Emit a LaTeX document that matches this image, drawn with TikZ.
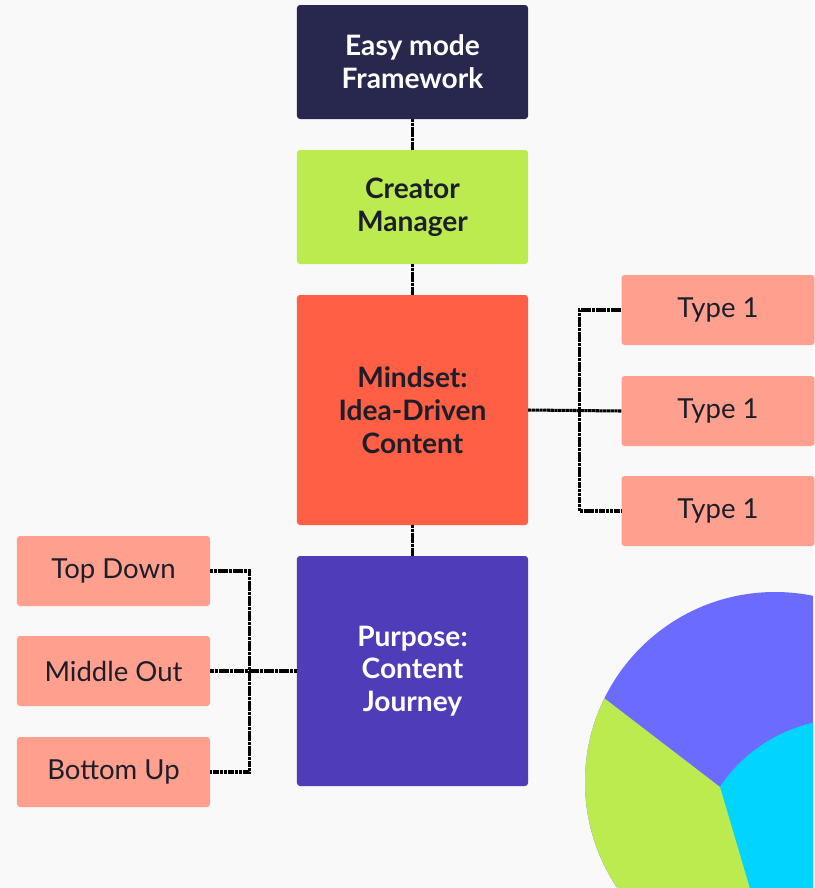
\documentclass[tikz,border=0pt]{standalone}
\usepackage{fontspec}
\setmainfont{Lato}
\usepackage{xcolor}
\definecolor{bg}{HTML}{F9F9F9}
\definecolor{ink}{HTML}{1E1E2A}
\definecolor{navy}{HTML}{28284F}
\definecolor{lime}{HTML}{BBEB4E}
\definecolor{tomato}{HTML}{FF5F45}
\definecolor{violet}{HTML}{4E3CB8}
\definecolor{salmon}{HTML}{FFA08F}
\definecolor{piepurple}{HTML}{6B6BFF}
\definecolor{piecyan}{HTML}{00D4FF}
\definecolor{piegreen}{HTML}{BCEB4F}

\begin{document}
\begin{tikzpicture}[
    x=0.03cm, y=-0.03cm,
    box/.style={rounded corners=0.09cm, minimum width=6.93cm, minimum height=3.42cm,
        align=center, inner sep=0pt, font=\bfseries\fontsize{24}{28}\selectfont},
    tallbox/.style={box, minimum height=6.9cm},
    leaf/.style={rounded corners=0.09cm, fill=salmon, text=ink, minimum width=5.79cm,
        minimum height=2.1cm, inner sep=0pt, font=\fontsize{23.5}{25}\selectfont},
    link/.style={draw=black, line width=2.6pt, dash pattern=on 2.6pt off 0.6pt}
]
\fill[bg] (0,0) rectangle (813,888);

% pie in the corner
\begin{scope}
    \clip (0,0) rectangle (813,888);
    \clip (775,782) circle[radius=190];
    \fill[piepurple] (775,782) circle[radius=190];
    \fill[piecyan] (847,872) circle[radius=153];
    \fill[piegreen] (720,787) -- (488,609) -- (488,940) -- (765,940) -- cycle;
\end{scope}

% main column
\node[box, fill=navy, text=white] (easy) at (412.5,62) {Easy mode\\Framework};
\node[box, fill=lime, text=ink] (creator) at (412.5,207) {Creator\\Manager};
\node[tallbox, fill=tomato, text=ink] (mindset) at (412.5,410) {Mindset:\\Idea-Driven\\Content};
\node[tallbox, fill=violet, text=white] (purpose) at (412.5,671) {Purpose:\\Content\\Journey};

% types
\node[leaf] (typeA) at (718,310) {Type 1};
\node[leaf] (typeB) at (718,411) {Type 1};
\node[leaf] (typeC) at (718,511) {Type 1};

% journeys
\node[leaf] (topdown) at (113.5,571) {Top Down};
\node[leaf] (middle) at (113.5,671) {Middle Out};
\node[leaf] (bottom) at (113.5,772) {Bottom Up};

\draw[link] (easy) -- (creator);
\draw[link] (creator) -- (mindset);
\draw[link] (mindset) -- (purpose);

\draw[link] (mindset.east) -- (typeB.west);
\draw[link] (typeA.west) -- ++(-42,0) |- (typeC.west);

\draw[link] (purpose.west) -- (middle.east);
\draw[link] (topdown.east) -- ++(39,0) |- (bottom.east);
\end{tikzpicture}
\end{document}
